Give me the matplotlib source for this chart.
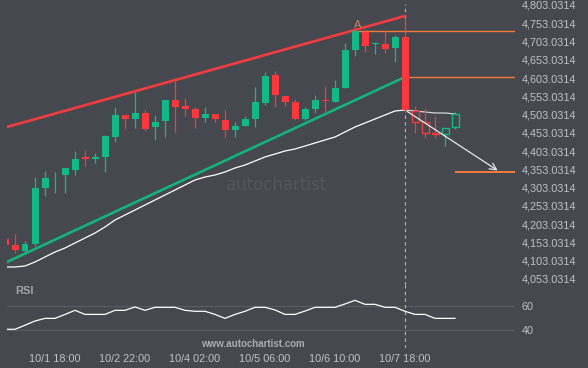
import matplotlib.pyplot as plt
import numpy as np

plt.rcParams['font.family'] = ['Liberation Sans', 'DejaVu Sans']

# 4h candles, index 0..45
opens = [4162.5, 4146.1, 4129.7, 4148.8, 4302.1, 4333.6, 4337.7, 4351.4, 4385.6, 4382.8,
         4387.0, 4441.7, 4501.9, 4491.0, 4507.4, 4469.1, 4485.5, 4543.0, 4526.5, 4518.3,
         4493.7, 4504.6, 4488.2, 4460.9, 4471.8, 4491.0, 4534.7, 4611.4, 4553.9, 4537.5,
         4491.0, 4518.3, 4541.6, 4537.5, 4575.8, 4679.8, 4729.1, 4694.9, 4696.2, 4685.3,
         4715.4, 4512.8, 4482.7, 4452.6, 4449.9, 4469.1]
highs = [4165.2, 4176.2, 4157.0, 4332.2, 4348.6, 4345.9, 4356.8, 4403.4, 4406.1, 4397.9,
         4447.2, 4523.8, 4503.0, 4564.8, 4515.6, 4501.9, 4543.0, 4595.0, 4548.4, 4523.8,
         4523.8, 4504.6, 4515.6, 4482.7, 4499.2, 4578.5, 4619.6, 4622.3, 4553.9, 4545.7,
         4523.8, 4556.6, 4581.3, 4597.7, 4699.0, 4737.3, 4737.3, 4701.7, 4731.8, 4720.9,
         4767.4, 4526.5, 4521.1, 4499.2, 4466.3, 4510.1]
lows = [4143.4, 4124.2, 4124.2, 4143.4, 4280.2, 4288.4, 4288.4, 4337.7, 4362.3, 4370.5,
        4345.9, 4428.0, 4463.6, 4466.3, 4458.1, 4433.5, 4441.7, 4455.4, 4499.2, 4466.3,
        4482.7, 4482.7, 4441.7, 4441.7, 4471.8, 4469.1, 4529.3, 4523.8, 4526.5, 4488.2,
        4488.2, 4507.4, 4510.1, 4537.5, 4575.8, 4663.4, 4674.3, 4668.9, 4671.6, 4647.0,
        4510.1, 4452.6, 4438.9, 4438.9, 4417.0, 4463.6]
closes = [4146.1, 4132.4, 4148.8, 4302.1, 4329.5, 4334.9, 4356.8, 4381.5, 4382.8, 4385.6,
          4444.4, 4501.9, 4491.0, 4507.4, 4463.6, 4482.7, 4543.0, 4523.8, 4518.3, 4493.7,
          4504.6, 4491.0, 4460.9, 4471.8, 4491.0, 4537.5, 4608.6, 4556.6, 4537.5, 4491.0,
          4518.3, 4543.0, 4538.9, 4575.8, 4679.8, 4731.8, 4690.8, 4697.6, 4682.5, 4715.4,
          4515.6, 4482.7, 4452.6, 4448.5, 4466.3, 4504.6]
moving_avg = [4085.9, 4085.9, 4088.6, 4099.6, 4113.3, 4126.9, 4137.9, 4151.6, 4165.2, 4178.9,
              4195.4, 4214.5, 4228.2, 4241.9, 4255.6, 4269.3, 4282.9, 4296.6, 4310.3, 4324.0,
              4332.2, 4337.7, 4345.9, 4356.8, 4365.0, 4376.0, 4387.0, 4395.1, 4403.4, 4408.8,
              4417.0, 4425.3, 4433.5, 4441.7, 4455.4, 4469.1, 4480.0, 4491.0, 4501.9, 4512.8,
              4515.6, 4512.8, 4510.1, 4507.4, 4507.4, 4504.6]
rsi = [40.6, 40.6, 44, 47.5, 49.7, 49.7, 53, 56.4, 53, 53,
       53, 56.4, 56.4, 59.2, 56.4, 58.9, 58.9, 58.9, 56.4, 55.6,
       55.6, 53, 49.7, 53, 55.6, 58.9, 58.9, 56.7, 53, 53,
       55.8, 58.9, 58.9, 58.9, 61.7, 64.7, 61.4, 61.4, 58.9, 58.9,
       55.6, 53, 53, 49.7, 49.7, 49.7]

# pattern lines
resist_x, resist_y = [0.2, 40], [4469.1, 4772.9]
support_x, support_y = [0.2, 40], [4099.6, 4605.9]
point_a = (35, 4731.8)
breakout_idx = 40
levels = [4731.8, 4605.9, 4345.9]
level_start = [35, 40, 45]
forecast_end = (49.5, 4345.9)
first_hollow = 41

date_idx = [5, 12, 19, 26, 33, 40]
date_labels = ['10/1 18:00', '10/2 22:00', '10/4 02:00', '10/5 06:00', '10/6 10:00', '10/7 18:00']
price_ticks = [4053.0314 + 50 * k for k in range(16)]

bg = '#45484e'
green = '#12b886'
red = '#fb383c'
orange = '#f47a3c'
label_col = '#bfc2c6'

fig = plt.figure(figsize=(5.88, 3.68), dpi=100, facecolor=bg)
ax = fig.add_axes([7/588, 1 - 285/368, 508/588, 285/368], facecolor=bg)
rax = fig.add_axes([7/588, 1 - 348/368, 508/588, 63/368], facecolor=bg)

x = np.arange(len(opens))
o = np.array(opens); c = np.array(closes)
up = c >= o
body_bot = np.minimum(o, c)
body_h = np.maximum(np.abs(c - o), 2.2)
cols = np.where(up, green, red)

ax.vlines(x, lows, highs, colors=cols, lw=0.9, zorder=3)
solid = x < first_hollow
ax.bar(x[solid], body_h[solid], bottom=body_bot[solid], width=0.7, color=cols[solid], zorder=4)
for i in x[~solid]:
    ax.bar(i, body_h[i], bottom=body_bot[i], width=0.7, facecolor=bg, edgecolor=cols[i], lw=1.0, zorder=4)

ax.plot(resist_x, resist_y, color='#f23c40', lw=1.9, zorder=2)
ax.plot(support_x, support_y, color='#14b37d', lw=1.9, zorder=2)
ax.plot(x[:breakout_idx + 1], moving_avg[:breakout_idx + 1], color='white', lw=0.9, zorder=2)
ax.plot(x[breakout_idx:], moving_avg[breakout_idx:], color='#d4d6d8', lw=0.9, zorder=2)

for lv, st in zip(levels, level_start):
    ax.hlines(lv, st, 51, color=orange, lw=1.4 if lv < 4400 else 1.0, zorder=2)
ax.text(point_a[0] + 0.3, point_a[1] + 3, 'A', color='#c98a5e', fontsize=8, ha='center', va='bottom')

ax.annotate('', xy=forecast_end, xytext=(breakout_idx, moving_avg[breakout_idx]),
            arrowprops=dict(arrowstyle='->', color='#e8e8e8', lw=0.9, mutation_scale=12), zorder=5)

ax.axvline(breakout_idx, ymax=0.985, color='#b4b6b9', lw=0.8, ls=(0, (3, 3)), zorder=1)
rax.axvline(breakout_idx, color='#b4b6b9', lw=0.8, ls=(0, (3, 3)), zorder=1)

ax.text(0.53, 0.35, 'autochartist', transform=ax.transAxes, color='#53575d',
        fontsize=12, family='DejaVu Sans', ha='center', va='center', zorder=0)

ax.set_xlim(0.2, 51)
ax.set_ylim(4036.6, 4816.6)
ax.yaxis.tick_right()
ax.set_yticks(price_ticks)
ax.set_yticklabels(['{:,.4f}'.format(v) for v in price_ticks])
ax.tick_params(axis='y', length=0, pad=5, labelsize=7.8, labelcolor=label_col)
ax.set_xticks([])
for s in ax.spines.values():
    s.set_visible(False)

rax.plot(x, rsi, color='white', lw=0.9)
rax.set_xlim(0.2, 51)
rax.set_ylim(25, 77.5)
rax.yaxis.tick_right()
rax.set_yticks([40, 60])
rax.grid(axis='y', color='#5a5e64', lw=0.8)
rax.set_axisbelow(True)
rax.set_xticks(date_idx)
rax.set_xticklabels(date_labels)
rax.tick_params(axis='y', length=0, pad=5, labelsize=7.8, labelcolor=label_col)
rax.tick_params(axis='x', length=0, pad=4, labelsize=7.8, labelcolor=label_col)
for s in rax.spines.values():
    s.set_visible(False)
rax.text(0.016, 0.9, 'RSI', transform=rax.transAxes, color='#a3a7ad', fontsize=8,
         fontweight='bold', va='center')

fig.text(253/588, 1 - 344/368, 'www.autochartist.com', color='#a9adb3', fontsize=7,
         fontweight='bold', ha='center', va='center')

fig.savefig('out.png', dpi=100, facecolor=bg)
